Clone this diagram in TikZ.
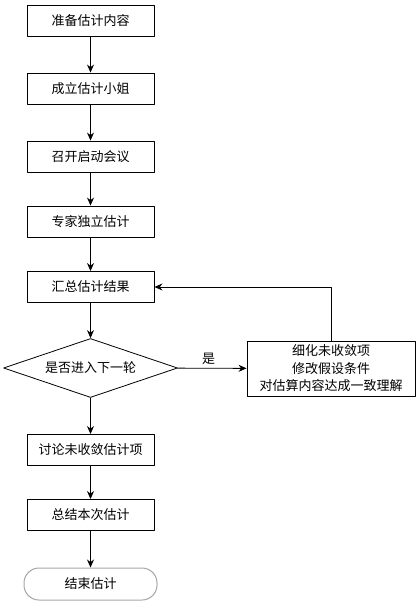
\documentclass[tikz,border=0pt]{standalone}
\usepackage{fontspec}
\newfontfamily\cjk{Noto Sans CJK SC}
\usetikzlibrary{shapes.geometric,arrows.meta}
\begin{document}
\begin{tikzpicture}[x=1pt, y=-1pt, line join=round, >={Stealth[length=8pt,width=7pt]}]
            \tikzset{every node/.style={font=\cjk\fontsize{13}{17.5}\selectfont},
                box/.style={draw, line width=0.9pt, minimum width=127pt, minimum height=31pt, inner sep=0pt},
                dec/.style={draw, diamond, aspect=2.95, line width=0.8pt, minimum width=174pt, minimum height=59pt, inner sep=0pt},
                term/.style={draw=gray!70, line width=1pt, rounded corners=15pt, minimum width=133pt, minimum height=32pt, inner sep=0pt},
                link/.style={->, line width=0.9pt}}
            \useasboundingbox (0,0) rectangle (419,604);
            \node[box] (prep) at (90.5,20.5) {准备估计内容};
            \node[box] (team) at (90.5,88.5) {成立估计小姐};
            \node[box] (meet) at (90.5,156.5) {召开启动会议};
            \node[box] (expert) at (90.5,221.5) {专家独立估计};
            \node[box] (sum) at (90.5,287) {汇总估计结果};
            \node[dec] (next) at (90.5,368) {是否进入下一轮};
            \node[box, minimum width=168pt, minimum height=55pt, align=center] (refine) at (331,368.5) {细化未收敛项\\修改假设条件\\对估算内容达成一致理解};
            \node[box] (discuss) at (90.5,450) {讨论未收敛估计项};
            \node[box] (close) at (90.5,515) {总结本次估计};
            \node[term] (end) at (90.5,584) {结束估计};
            % main chain
            \draw[link] (prep) -- (team);
            \draw[link] (team) -- (meet);
            \draw[link] (meet) -- (expert);
            \draw[link] (expert) -- (sum);
            \draw[link] (sum) -- (next);
            \draw[link] (next) -- node[above, pos=0.45]{是} (refine);
            \draw[link] (refine.north) |- (sum.east);
            \draw[link] (next) -- (discuss);
            \draw[link] (discuss) -- (close);
            \draw[link] (close) -- (end);
        \end{tikzpicture}
\end{document}
